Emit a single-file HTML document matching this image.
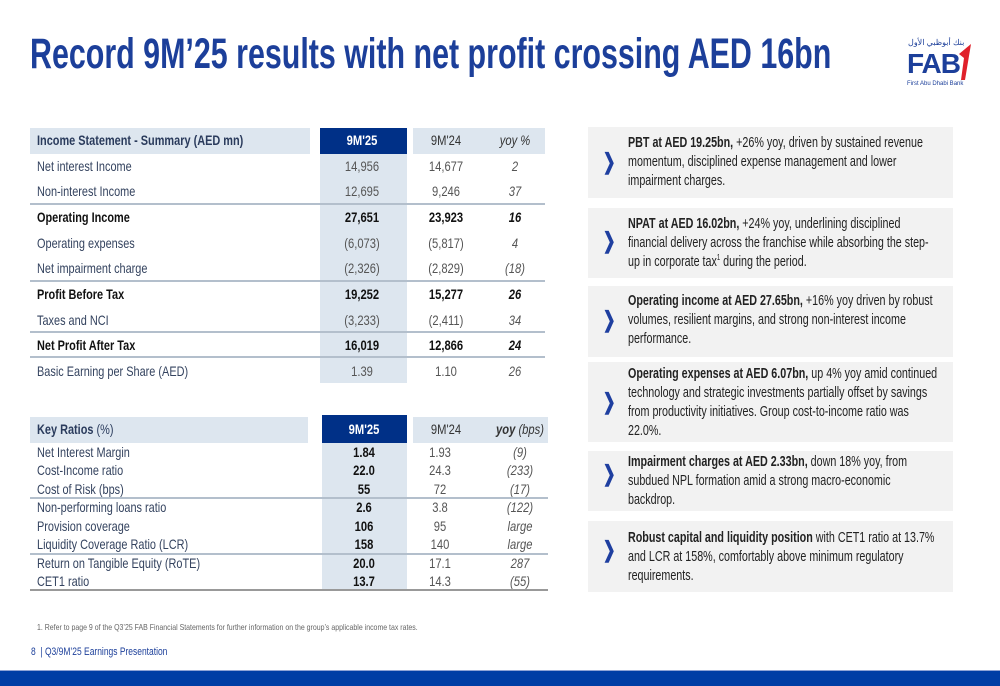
<!DOCTYPE html>
<html><head><meta charset="utf-8"><style>
body{margin:0;width:1000px;height:685px;position:relative;overflow:hidden;background:#fff;font-family:"Liberation Sans",sans-serif;}
.a{position:absolute;}
.t{position:absolute;white-space:nowrap;transform:scaleX(0.78);transform-origin:left center;font-size:14px;line-height:18px;color:#34435f;}
.c{position:absolute;white-space:nowrap;font-size:14px;line-height:18px;color:#555;transform:translateX(-50%) scaleX(0.8);}
.b{font-weight:bold;color:#111;}
.i{font-style:italic;}
.box{position:absolute;left:588px;width:365px;background:#f2f2f2;}
.chev{position:absolute;left:600px;color:#1f3fa0;font-size:22px;font-weight:bold;transform:scaleX(0.7);}
.p{position:absolute;left:628px;white-space:nowrap;font-size:14.5px;line-height:19px;color:#222;transform:scaleX(0.74);transform-origin:left top;}
.p sup{font-size:8px;line-height:0;vertical-align:6px;}
.line{position:absolute;height:2px;background:#b3bfcc;}
</style></head><body>
<div class="a" style="left:30px;top:30px;white-space:nowrap;font-size:43px;font-weight:bold;color:#1c3f9a;transform:scaleX(0.707);transform-origin:left top;">Record 9M’25 results with net profit crossing AED 16bn</div>
<div class="a" style="left:905px;top:38px;width:70px;height:65px;">
<div class="a" style="left:3px;top:0;font-size:8px;color:#1c3f9a;">بنك أبوظبي الأول</div>
<div class="a" style="left:2px;top:10px;font-size:28px;font-weight:bold;color:#1c3f9a;letter-spacing:-1px;">FAB</div>
<svg class="a" style="left:52px;top:6px" width="16" height="36"><path d="M2 10 L14 0 L8 36 L4 36 L7 14 Z" fill="#e0202a"/></svg>
<div class="a" style="left:2px;top:43px;font-size:6px;color:#1c3f9a;white-space:nowrap;">First Abu Dhabi Bank</div>
</div>

<!-- Table 1 -->
<div>
<div class="a" style="left:30px;top:128px;width:280px;height:26px;background:#dde6ef"></div>
<div class="a" style="left:320px;top:128px;width:87px;height:255px;background:#dde6ef"></div>
<div class="a" style="left:320px;top:128px;width:87px;height:26px;background:#003087"></div>
<div class="a" style="left:413px;top:128px;width:132px;height:26px;background:#dde6ef"></div>
<div class="line" style="left:30px;top:203px;width:515px"></div>
<div class="line" style="left:30px;top:280px;width:515px"></div>
<div class="line" style="left:30px;top:331px;width:515px"></div>
<div class="line" style="left:30px;top:356px;width:515px"></div>
<div class="t b" style="left:37px;top:131px;color:#2a3b5c">Income Statement - Summary (AED mn)</div>
<div class="c b" style="left:362px;top:131px;color:#fff">9M'25</div>
<div class="c" style="left:446px;top:131px;color:#333">9M'24</div>
<div class="c i" style="left:515px;top:131px;color:#333">yoy %</div>

<div class="t" style="left:37px;top:157px">Net interest Income</div><div class="c" style="left:362px;top:157px">14,956</div><div class="c" style="left:446px;top:157px">14,677</div><div class="c i" style="left:515px;top:157px">2</div>
<div class="t" style="left:37px;top:182px">Non-interest Income</div><div class="c" style="left:362px;top:182px">12,695</div><div class="c" style="left:446px;top:182px">9,246</div><div class="c i" style="left:515px;top:182px">37</div>
<div class="t b" style="left:37px;top:208px">Operating Income</div><div class="c b" style="left:362px;top:208px">27,651</div><div class="c b" style="left:446px;top:208px">23,923</div><div class="c b i" style="left:515px;top:208px">16</div>
<div class="t" style="left:37px;top:234px">Operating expenses</div><div class="c" style="left:362px;top:234px">(6,073)</div><div class="c" style="left:446px;top:234px">(5,817)</div><div class="c i" style="left:515px;top:234px">4</div>
<div class="t" style="left:37px;top:259px">Net impairment charge</div><div class="c" style="left:362px;top:259px">(2,326)</div><div class="c" style="left:446px;top:259px">(2,829)</div><div class="c i" style="left:515px;top:259px">(18)</div>
<div class="t b" style="left:37px;top:285px">Profit Before Tax</div><div class="c b" style="left:362px;top:285px">19,252</div><div class="c b" style="left:446px;top:285px">15,277</div><div class="c b i" style="left:515px;top:285px">26</div>
<div class="t" style="left:37px;top:311px">Taxes and NCI</div><div class="c" style="left:362px;top:311px">(3,233)</div><div class="c" style="left:446px;top:311px">(2,411)</div><div class="c i" style="left:515px;top:311px">34</div>
<div class="t b" style="left:37px;top:336px">Net Profit After Tax</div><div class="c b" style="left:362px;top:336px">16,019</div><div class="c b" style="left:446px;top:336px">12,866</div><div class="c b i" style="left:515px;top:336px">24</div>
<div class="t" style="left:37px;top:362px">Basic Earning per Share (AED)</div><div class="c" style="left:362px;top:362px">1.39</div><div class="c" style="left:446px;top:362px">1.10</div><div class="c i" style="left:515px;top:362px">26</div>
</div>

<!-- Table 2 -->
<div>
<div class="a" style="left:30px;top:417px;width:278px;height:26px;background:#dde6ef"></div>
<div class="a" style="left:322px;top:417px;width:85px;height:173px;background:#dde6ef"></div>
<div class="a" style="left:322px;top:415px;width:85px;height:28px;background:#003087"></div>
<div class="a" style="left:413px;top:417px;width:135px;height:26px;background:#dde6ef"></div>
<div class="line" style="left:30px;top:497px;width:518px"></div>
<div class="line" style="left:30px;top:553px;width:518px"></div>
<div class="line" style="left:30px;top:589px;width:518px;background:#999"></div>
<div class="t b" style="left:37px;top:420px;color:#2a3b5c">Key Ratios <span style="font-weight:normal">(%)</span></div>
<div class="c b" style="left:364px;top:420px;color:#fff">9M'25</div>
<div class="c" style="left:446px;top:420px;color:#333">9M'24</div>
<div class="c i" style="left:520px;top:420px;color:#333"><b>yoy</b> (bps)</div>

<div class="t" style="left:37px;top:443px">Net Interest Margin</div><div class="c b" style="left:364px;top:443px">1.84</div><div class="c" style="left:440px;top:443px">1.93</div><div class="c i" style="left:520px;top:443px">(9)</div>
<div class="t" style="left:37px;top:461px">Cost-Income ratio</div><div class="c b" style="left:364px;top:461px">22.0</div><div class="c" style="left:440px;top:461px">24.3</div><div class="c i" style="left:520px;top:461px">(233)</div>
<div class="t" style="left:37px;top:480px">Cost of Risk (bps)</div><div class="c b" style="left:364px;top:480px">55</div><div class="c" style="left:440px;top:480px">72</div><div class="c i" style="left:520px;top:480px">(17)</div>
<div class="t" style="left:37px;top:498px">Non-performing loans ratio</div><div class="c b" style="left:364px;top:498px">2.6</div><div class="c" style="left:440px;top:498px">3.8</div><div class="c i" style="left:520px;top:498px">(122)</div>
<div class="t" style="left:37px;top:517px">Provision coverage</div><div class="c b" style="left:364px;top:517px">106</div><div class="c" style="left:440px;top:517px">95</div><div class="c i" style="left:520px;top:517px">large</div>
<div class="t" style="left:37px;top:535px">Liquidity Coverage Ratio (LCR)</div><div class="c b" style="left:364px;top:535px">158</div><div class="c" style="left:440px;top:535px">140</div><div class="c i" style="left:520px;top:535px">large</div>
<div class="t" style="left:37px;top:554px">Return on Tangible Equity (RoTE)</div><div class="c b" style="left:364px;top:554px">20.0</div><div class="c" style="left:440px;top:554px">17.1</div><div class="c i" style="left:520px;top:554px">287</div>
<div class="t" style="left:37px;top:572px">CET1 ratio</div><div class="c b" style="left:364px;top:572px">13.7</div><div class="c" style="left:440px;top:572px">14.3</div><div class="c i" style="left:520px;top:572px">(55)</div>
</div>

<!-- Right panel -->
<div class="box" style="top:127px;height:71px"></div>
<div class="chev" style="top:149px">❯</div>
<div class="p" style="top:134px"><b>PBT at AED 19.25bn,</b> +26% yoy, driven by sustained revenue<br>momentum, disciplined expense management and lower<br>impairment charges.</div>

<div class="box" style="top:208px;height:70px"></div>
<div class="chev" style="top:228px">❯</div>
<div class="p" style="top:215px"><b>NPAT at AED 16.02bn,</b> +24% yoy, underlining disciplined<br>financial delivery across the franchise while absorbing the step-<br>up in corporate tax<sup>1</sup> during the period.</div>

<div class="box" style="top:286px;height:71px"></div>
<div class="chev" style="top:307px">❯</div>
<div class="p" style="top:292px"><b>Operating income at AED 27.65bn,</b> +16% yoy driven by robust<br>volumes, resilient margins, and strong non-interest income<br>performance.</div>

<div class="box" style="top:362px;height:80px"></div>
<div class="chev" style="top:389px">❯</div>
<div class="p" style="top:365px"><b>Operating expenses at AED 6.07bn,</b> up 4% yoy amid continued<br>technology and strategic investments partially offset by savings<br>from productivity initiatives. Group cost-to-income ratio was<br>22.0%.</div>

<div class="box" style="top:451px;height:60px"></div>
<div class="chev" style="top:461px">❯</div>
<div class="p" style="top:453px"><b>Impairment charges at AED 2.33bn,</b> down 18% yoy, from<br>subdued NPL formation amid a strong macro-economic<br>backdrop.</div>

<div class="box" style="top:521px;height:71px"></div>
<div class="chev" style="top:537px">❯</div>
<div class="p" style="top:529px"><b>Robust capital and liquidity position</b> with CET1 ratio at 13.7%<br>and LCR at 158%, comfortably above minimum regulatory<br>requirements.</div>

<div class="a" style="left:37px;top:622px;font-size:8.5px;color:#666;white-space:nowrap;transform:scaleX(0.82);transform-origin:left top;">1. Refer to page 9 of the Q3’25 FAB Financial Statements for further information on the group’s applicable income tax rates.</div>
<div class="a" style="left:31px;top:646px;font-size:11px;color:#1c3f9a;white-space:nowrap;transform:scaleX(0.77);transform-origin:left top;">8 &nbsp;| Q3/9M’25 Earnings Presentation</div>
<div class="a" style="left:0;top:670px;width:1000px;height:15px;background:#003da5;border-top:1px solid #8fa3d6"></div>
</body></html>
